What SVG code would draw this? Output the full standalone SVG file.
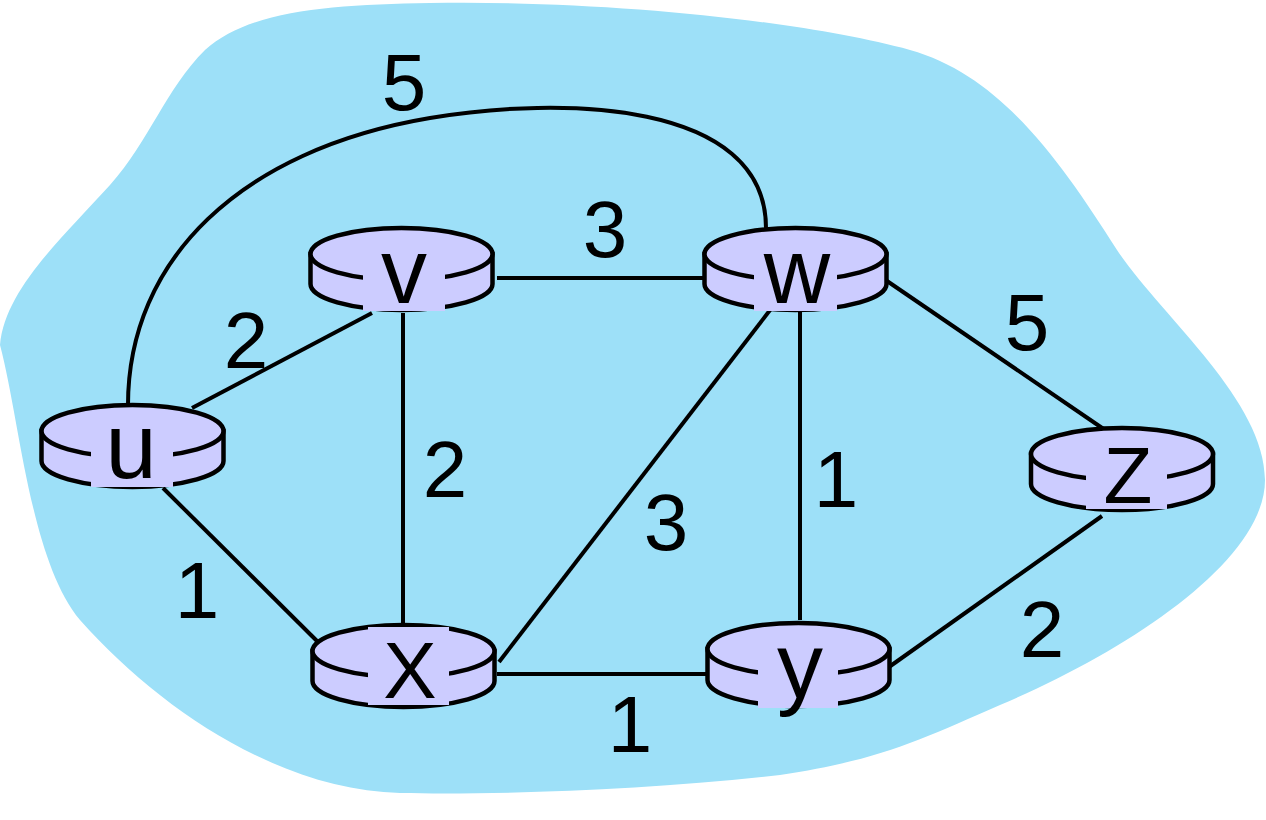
<svg xmlns="http://www.w3.org/2000/svg" width="1266" height="820" viewBox="0 0 1266 820">
<style>
.cloud{fill:#9DE0F8;stroke:none}
.edge{fill:none;stroke:#000;stroke-width:4}
.body,.top{fill:#CCCCFF;stroke:#000;stroke-width:4.5}
.bg{fill:#CCCCFF;stroke:none}
.lbl{font-family:"Liberation Sans",Arial,sans-serif;font-size:92px;fill:#000;text-anchor:middle}
.cap{font-size:80px}
.w{font-family:"Liberation Sans",Arial,sans-serif;font-size:80px;fill:#000;text-anchor:middle}
</style>
<rect width="1266" height="820" fill="#fff"/>
<path class="cloud" d="M0,345 C5,290 60,240 110,185 C150,140 165,90 205,50 C250,10 330,5 430,3 C600,0 800,20 910,50 C1000,75 1060,160 1117,250 C1160,315 1265,400 1265,480 C1265,560 1130,650 1000,705 C920,740 880,760 780,775 C650,790 500,795 400,793 C280,790 160,710 80,620 C30,560 20,420 0,345 Z"/>
<g id="connectors">
<path class="edge" d="M128,405 C128,260 240,150 430,118 C560,96 766,100 766,228"/>
<line class="edge" x1="192" y1="408" x2="372" y2="313"/>
<line class="edge" x1="497" y1="278" x2="704" y2="278"/>
<line class="edge" x1="403" y1="313" x2="403" y2="628"/>
<line class="edge" x1="784" y1="292" x2="499" y2="662"/>
<line class="edge" x1="800" y1="302" x2="800" y2="620"/>
<line class="edge" x1="887" y1="281" x2="1108" y2="432"/>
<line class="edge" x1="163" y1="488" x2="321" y2="645"/>
<line class="edge" x1="497" y1="674" x2="708" y2="674"/>
<line class="edge" x1="889" y1="667" x2="1102" y2="516"/>
</g>
<g id="weights">
<text class="w" x="404" y="110">5</text>
<text class="w" x="605" y="257">3</text>
<text class="w" x="246" y="368">2</text>
<text class="w" x="445" y="497">2</text>
<text class="w" x="666" y="550">3</text>
<text class="w" x="836" y="507">1</text>
<text class="w" x="197" y="618">1</text>
<text class="w" x="630" y="752">1</text>
<text class="w" x="1027" y="350">5</text>
<text class="w" x="1042" y="657">2</text>
</g>
<g id="node-u">
<path class="body" d="M41.5,431 V461 A91,26 0 0 0 223.5,461 V431 Z"/>
<ellipse class="top" cx="132.5" cy="431" rx="91" ry="26"/>
<rect class="bg" x="91" y="438" width="82" height="49"/>
<text class="lbl" x="131" y="478">u</text>
</g>
<g id="node-v">
<path class="body" d="M310.5,254 V284 A91,26 0 0 0 492.5,284 V254 Z"/>
<ellipse class="top" cx="401.5" cy="254" rx="91" ry="26"/>
<rect class="bg" x="363" y="246" width="82" height="65"/>
<text class="lbl" x="404" y="303">v</text>
</g>
<g id="node-w">
<path class="body" d="M704.5,254 V284 A91,26 0 0 0 886.5,284 V254 Z"/>
<ellipse class="top" cx="795.5" cy="254" rx="91" ry="26"/>
<rect class="bg" x="754" y="246" width="83" height="65"/>
<text class="lbl" x="797" y="303">w</text>
</g>
<g id="node-x">
<path class="body" d="M312.5,651 V681 A91,26 0 0 0 494.5,681 V651 Z"/>
<ellipse class="top" cx="403.5" cy="651" rx="91" ry="26"/>
<rect class="bg" x="368" y="627" width="81" height="78"/>
<text class="lbl cap" x="410" y="698">X</text>
</g>
<g id="node-y">
<path class="body" d="M707.5,649 V680 A91,26 0 0 0 889.5,680 V649 Z"/>
<ellipse class="top" cx="798.5" cy="649" rx="91" ry="26"/>
<rect class="bg" x="758" y="640" width="80" height="68"/>
<text class="lbl" x="800" y="698">y</text>
</g>
<g id="node-z">
<path class="body" d="M1031,454 V484 A91,26 0 0 0 1213,484 V454 Z"/>
<ellipse class="top" cx="1122" cy="454" rx="91" ry="26"/>
<rect class="bg" x="1086" y="440" width="81" height="69"/>
<text class="lbl cap" x="1128" y="503">Z</text>
</g>
</svg>
